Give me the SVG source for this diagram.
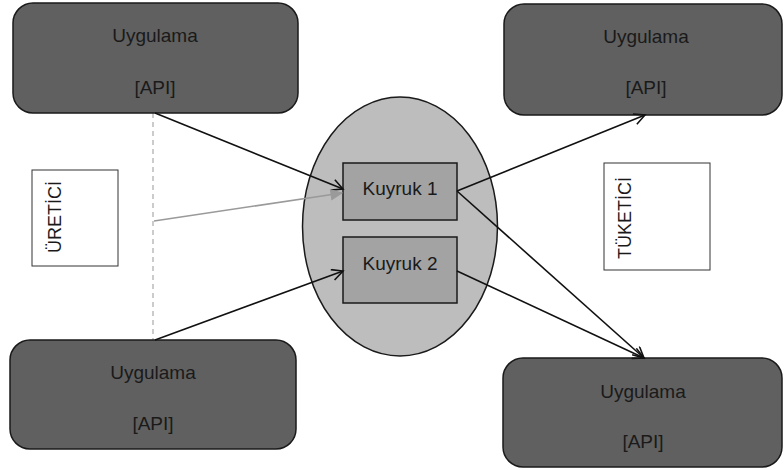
<svg xmlns="http://www.w3.org/2000/svg" width="784" height="470" viewBox="0 0 784 470">
  <style>
    .app { fill: #606060; stroke: #1a1a1a; stroke-width: 1.5; }
    .pool { fill: #bdbdbd; stroke: #1a1a1a; stroke-width: 1.5; }
    .queue { fill: #a3a3a3; stroke: #1a1a1a; stroke-width: 1.5; }
    .label { fill: #ffffff; stroke: #333333; stroke-width: 1; }
    .t { font-family: "Liberation Sans", Arial, sans-serif; font-size: 19px; fill: #1a1a1a; text-anchor: middle; }
    .tl { font-family: "Liberation Sans", Arial, sans-serif; font-size: 18px; fill: #1a1a1a; text-anchor: middle; }
    .edge { stroke: #111111; stroke-width: 1.6; fill: none; marker-end: url(#arrow); }
    .edge-grey { stroke: #9a9a9a; stroke-width: 1.6; fill: none; marker-end: url(#arrow-grey); }
    .guide { stroke: #aaaaaa; stroke-width: 1.2; stroke-dasharray: 5 4; fill: none; }
  </style>
  <defs>
    <marker id="arrow" markerUnits="userSpaceOnUse" markerWidth="14" markerHeight="14" refX="12" refY="6" orient="auto">
      <path d="M1,0.5 L12,6 L1,11.5" fill="none" stroke="#111111" stroke-width="1.6"/>
    </marker>
    <marker id="arrow-grey" markerUnits="userSpaceOnUse" markerWidth="14" markerHeight="14" refX="12" refY="6" orient="auto">
      <path d="M1,1 L12,6 L1,11 Z" fill="#9a9a9a" stroke="#9a9a9a" stroke-width="1"/>
    </marker>
  </defs>

  <!-- dashed producer guide line -->
  <line class="guide" x1="153" y1="113" x2="153" y2="340"/>

  <!-- message broker -->
  <g id="broker">
    <ellipse class="pool" cx="400" cy="226.5" rx="97.5" ry="129.5"/>
  </g>

  <g id="queue1">
    <rect class="queue" x="343" y="163" width="114" height="57"/>
    <text class="t" x="400" y="195">Kuyruk 1</text>
  </g>
  <g id="queue2">
    <rect class="queue" x="343" y="237" width="114" height="66"/>
    <text class="t" x="400" y="270">Kuyruk 2</text>
  </g>

  <!-- applications -->
  <g id="producer-top">
    <rect class="app" x="13" y="3" width="285" height="110" rx="20"/>
    <text class="t" x="155" y="42">Uygulama</text>
    <text class="t" x="155" y="94">[API]</text>
  </g>
  <g id="producer-bottom">
    <rect class="app" x="10" y="340" width="286" height="109" rx="20"/>
    <text class="t" x="153" y="379">Uygulama</text>
    <text class="t" x="153" y="430">[API]</text>
  </g>
  <g id="consumer-top">
    <rect class="app" x="504" y="4" width="278" height="111" rx="20"/>
    <text class="t" x="646" y="43">Uygulama</text>
    <text class="t" x="646" y="94">[API]</text>
  </g>
  <g id="consumer-bottom">
    <rect class="app" x="503" y="358" width="279" height="109" rx="20"/>
    <text class="t" x="643" y="398">Uygulama</text>
    <text class="t" x="643" y="448">[API]</text>
  </g>

  <!-- side labels -->
  <g id="producer-label">
    <rect class="label" x="32" y="170" width="86" height="96"/>
    <text class="tl" transform="translate(61,217) rotate(-90)">ÜRETİCİ</text>
  </g>
  <g id="consumer-label">
    <rect class="label" x="604" y="163" width="106" height="107"/>
    <text class="tl" transform="translate(631,218) rotate(-90)">TÜKETİCİ</text>
  </g>

  <!-- connectors -->
  <g id="connectors">
    <line class="edge" x1="155" y1="113" x2="343" y2="189"/>
    <line class="edge-grey" x1="154" y1="221" x2="342" y2="193"/>
    <line class="edge" x1="155" y1="340" x2="343" y2="271"/>
    <line class="edge" x1="457" y1="191" x2="645" y2="115"/>
    <line class="edge" x1="457" y1="191" x2="644" y2="358"/>
    <line class="edge" x1="457" y1="271" x2="644" y2="358"/>
  </g>
</svg>
